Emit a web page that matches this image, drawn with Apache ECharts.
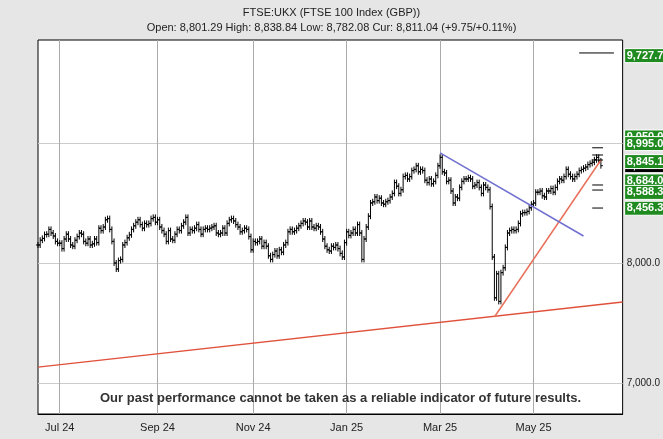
<!DOCTYPE html>
<html>
<head>
<meta charset="utf-8">
<script src="https://cdn.jsdelivr.net/npm/echarts@6/dist/echarts.min.js"></script>
<style>
  html, body { margin: 0; padding: 0; }
  #main { width: 663px; height: 439px; }
</style>
</head>
<body>
<div id="main"></div>
<script>
// closes
var jun24 = [8150,8190,8205,8237,8240,8280,8250,8225,8180,8165];
var jul24 = [8165,8120,8200,8240,8200,8150,8140,8190,8220,8250,8240,8180,8165,8200,8150,8160,8200,8170,8290,8270,8300,8360,8370];
var aug24 = [8280,8180,8000,7950,8020,8030,8150,8170,8210,8235,8280,8310,8340,8360,8320,8290,8330,8320,8330,8370,8380,8340];
var sep24 = [8360,8300,8270,8240,8180,8270,8200,8190,8240,8280,8270,8310,8340,8380,8250,8280,8270,8290,8320,8280,8240];
var oct24 = [8280,8290,8280,8290,8300,8310,8250,8240,8250,8290,8250,8330,8360,8370,8350,8320,8300,8260,8270,8290,8280,8220,8110];
var nov24 = [8180,8170,8180,8200,8140,8170,8140,8060,8030,8070,8100,8060,8110,8090,8150,8170,8260,8280,8260,8270,8290];
var dec24 = [8310,8330,8350,8340,8300,8350,8300,8290,8310,8300,8260,8200,8140,8110,8100,8140,8130,8150,8120,8080,8050,8170];
var jan25 = [8260,8230,8250,8280,8250,8320,8250,8030,8200,8300,8390,8500,8510,8550,8520,8540,8500,8490,8510,8520,8550,8580,8670];
var feb25 = [8640,8580,8610,8720,8730,8700,8720,8770,8780,8810,8760,8780,8770,8690,8670,8700,8660,8680,8730,8810];
var mar25 = [8880,8760,8750,8680,8690,8600,8500,8550,8540,8630,8680,8700,8700,8710,8700,8640,8650,8670,8630,8580,8650];
var apr25 = [8630,8610,8470,8050,7710,7910,7680,7920,7960,8130,8250,8270,8280,8270,8280,8330,8410,8420,8420,8430,8460,8490];
var may25 = [8500,8590,8590,8600,8560,8550,8600,8600,8620,8590,8630,8680,8700,8690,8720,8780,8740,8720,8700,8720,8740,8770];
var jun25 = [8780,8790,8800,8820,8830,8840,8860,8880,8850,8811];
var closes = [].concat(jun24, jul24, aug24, sep24, oct24, nov24, dec24, jan25, feb25, mar25, apr25, may25, jun25);

// trend lines [dateStart, valueStart, dateEnd, valueEnd]
var longTrend = ['2024-06-17', 7133, '2025-06-27', 7675];
var riseTrend = ['2025-04-07', 7550, '2025-06-13', 8858];
var fallTrend = ['2025-03-03', 8917, '2025-06-03', 8225];
var targets = [8960, 8900, 8858, 8650, 8608, 8458];
var bigTarget = 9750;
var sideLabels = [9727.7, 9050.0, 8995.0, 8684.0, 8588.3, 8456.3];
var curLabel = 8811.0;
var topLabel = 8845.1;
var yTicks = [7000, 8000, 9000];
var monthLabels = {'2024-07': 'Jul 24', '2024-09': 'Sep 24', '2024-11': 'Nov 24', '2025-01': 'Jan 25', '2025-03': 'Mar 25', '2025-05': 'May 25'};

// weekday categories
var dates = [];
var d = new Date(Date.UTC(2024, 5, 17));
var endD = new Date(Date.UTC(2025, 5, 27));
while (d <= endD) {
  var wd = d.getUTCDay();
  if (wd != 0 && wd != 6) dates.push(d.toISOString().slice(0, 10));
  d.setUTCDate(d.getUTCDate() + 1);
}
function idx(s) {
  for (var i = 0; i < dates.length; i++) if (dates[i] >= s) return i;
  return dates.length - 1;
}
var firstOfMonth = {};
dates.forEach(function (s, i) {
  var m = s.slice(0, 7);
  if (firstOfMonth[m] === undefined) firstOfMonth[m] = i;
});
var labelIdx = {};
Object.keys(monthLabels).forEach(function (m) { labelIdx[firstOfMonth[m]] = monthLabels[m]; });

var ohlc = closes.map(function (c, i) {
  return [i, i > 0 ? closes[i - 1] : c, c];
});

function fmt(v) {
  return v.toLocaleString('en-US', {minimumFractionDigits: 1, maximumFractionDigits: 1});
}
function seg(t) { return [[idx(t[0]), t[1]], [idx(t[2]), t[3]]]; }

var last = closes.length - 1;
var tgtSeries = targets.map(function (v) {
  return {type: 'line', symbol: 'none', silent: true, lineStyle: {color: '#000', width: 1},
    data: [[last - 4, v], [last + 1, v]]};
});
var labelData = sideLabels.map(function (v) { return [0, v, 0]; }).concat([[0, curLabel, 1], [0, topLabel, 0]]);

var mChart = echarts.init(document.getElementById('main'));
var option = {
  backgroundColor: '#e6e6e6',
  animation: false,
  graphic: [
    {type: 'text', left: 'center', top: 7, style: {text: 'FTSE:UKX (FTSE 100 Index (GBP))', fill: '#222', font: '11px "Liberation Sans", Arial'}},
    {type: 'text', left: 'center', top: 22, style: {text: 'Open: 8,801.29 High: 8,838.84 Low: 8,782.08 Cur: 8,811.04 (+9.75/+0.11%)', fill: '#222', font: '11px "Liberation Sans", Arial'}},
    {type: 'text', left: 100, top: 392, z: 100, style: {text: 'Our past performance cannot be taken as a reliable indicator of future results.', fill: '#333', font: 'bold 13px "Liberation Sans", Arial'}}
  ],
  grid: {left: 38, right: 36, top: 40, bottom: 25, show: true, backgroundColor: '#fff', borderColor: '#000', borderWidth: 1},
  xAxis: {
    type: 'category', data: dates, boundaryGap: false,
    axisLine: {lineStyle: {color: '#000'}},
    axisTick: {show: false},
    axisLabel: {
      interval: function (i) { return labelIdx[i] !== undefined; },
      formatter: function (v, i) { return labelIdx[i] || ''; },
      color: '#222', fontSize: 11, fontFamily: 'Liberation Sans'
    },
    splitLine: {show: true, interval: function (i) { return labelIdx[i] !== undefined; }, lineStyle: {color: '#aaa'}}
  },
  yAxis: {
    type: 'value', position: 'right', min: 6742, max: 9858, scale: true,
    axisLine: {show: false},
    axisTick: {show: false, customValues: yTicks},
    axisLabel: {customValues: yTicks, formatter: fmt, color: '#222', fontSize: 10, margin: 4},
    splitLine: {show: true, lineStyle: {color: '#ccc'}}
  },
  series: [
    {
      type: 'custom', silent: true,
      renderItem: function (params, api) {
        var x = api.coord([api.value(0), 0])[0];
        var o = api.coord([0, api.value(1)])[1];
        var c = api.coord([0, api.value(2)])[1];
        var hi = Math.min(o, c) - 3, lo = Math.max(o, c) + 3;
        var st = {stroke: '#000', lineWidth: 1};
        return {type: 'group', children: [
          {type: 'line', shape: {x1: x, y1: hi, x2: x, y2: lo}, style: st},
          {type: 'line', shape: {x1: x - 2, y1: o, x2: x, y2: o}, style: st},
          {type: 'line', shape: {x1: x, y1: c, x2: x + 2, y2: c}, style: st}
        ]};
      },
      encode: {x: 0, y: [1, 2]},
      data: ohlc
    },
    {type: 'line', symbol: 'none', silent: true, lineStyle: {color: '#e0503a', width: 1.3}, data: seg(longTrend)},
    {type: 'line', symbol: 'none', silent: true, lineStyle: {color: '#e8705a', width: 1.5}, data: seg(riseTrend)},
    {type: 'line', symbol: 'none', silent: true, lineStyle: {color: '#7070d0', width: 1.5}, data: seg(fallTrend)},
    {type: 'line', symbol: 'none', silent: true, lineStyle: {color: '#000', width: 1}, data: [[last - 10, bigTarget], [last + 6, bigTarget]]},
    {
      type: 'custom', silent: true, z: 10, clip: false,
      renderItem: function (params, api) {
        var cs = params.coordSys;
        var y = api.coord([0, api.value(1)])[1];
        var x = cs.x + cs.width + 2;
        return {type: 'group', children: [
          {type: 'rect', shape: {x: x, y: y - 7, width: 40, height: 14},
            style: {fill: api.value(2) ? '#000' : '#1f8a1f', stroke: '#fff', lineWidth: 1}},
          {type: 'text', x: x + 2, y: y, style: {text: fmt(api.value(1)), fill: '#fff', font: 'bold 11px "Liberation Sans", Arial', verticalAlign: 'middle'}}
        ]};
      },
      encode: {x: 0, y: 1},
      data: labelData
    }
  ].concat(tgtSeries)
};
mChart.setOption(option);
</script>
</body>
</html>
